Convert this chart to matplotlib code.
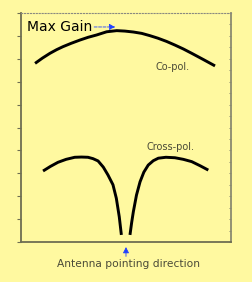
import matplotlib
matplotlib.use('Agg')
import matplotlib.pyplot as plt
import numpy as np

# co-pol and cross-pol pattern (x: 0-100, y: 0-10)
copol_x = [6.7, 10.2, 13.8, 17.0, 20.0, 24.0, 28.1, 32.0, 36.0, 40.8, 45.6, 49.5,
           53.5, 57.5, 61.4, 65.2, 69.3, 73.3, 77.3, 81.3, 86.8, 92.4]
copol_y = [7.80, 8.03, 8.24, 8.40, 8.53, 8.68, 8.82, 8.94, 9.04, 9.18, 9.23, 9.21,
           9.17, 9.11, 9.01, 8.90, 8.76, 8.60, 8.43, 8.24, 7.97, 7.69]

xpol_left_x = [10.5, 14.0, 17.6, 21.5, 25.6, 28.8, 31.9, 34.3, 36.7, 39.2, 41.4,
               43.8, 45.4, 46.8, 47.8]
xpol_left_y = [3.10, 3.30, 3.48, 3.61, 3.70, 3.71, 3.70, 3.64, 3.54, 3.27, 2.93,
               2.50, 1.91, 1.10, 0.31]
xpol_right_x = [51.9, 52.7, 53.5, 55.0, 56.7, 58.5, 60.6, 63.0, 65.4, 69.0, 73.3,
                77.3, 81.3, 85.3, 89.2]
xpol_right_y = [0.31, 0.85, 1.32, 2.05, 2.63, 3.05, 3.36, 3.55, 3.66, 3.70, 3.68,
                3.61, 3.51, 3.33, 3.14]

bg = '#fff9a0'
spine_c = '#6e6e52'
txt_c = '#4a4a38'

fig = plt.figure(figsize=(2.52, 2.82), dpi=100, facecolor=bg)
ax = fig.add_axes([0.0833, 0.1418, 0.8333, 0.8121], facecolor=bg)

ax.plot(copol_x, copol_y, color='black', lw=2.1, solid_capstyle='butt')
ax.plot(xpol_left_x, xpol_left_y, color='black', lw=2.1, solid_capstyle='butt')
ax.plot(xpol_right_x, xpol_right_y, color='black', lw=2.1, solid_capstyle='butt')

ax.set_xlim(0, 100)
ax.set_ylim(0, 10)
ax.set_xticks([])
ax.set_yticks(np.arange(0, 11, 1))
ax.set_yticklabels([])
ax.tick_params(axis='y', which='both', direction='out', length=3, width=0.8,
               color=spine_c)
ax2 = ax.secondary_yaxis('right')
ax2.set_yticks(np.arange(0, 10.5, 0.5))
ax2.set_yticklabels([])
ax2.tick_params(direction='in', length=1.5, width=0.7, color='#8a8a70')
ax2.spines['right'].set_color('#8a8a70')
ax2.spines['right'].set_linewidth(1.3)

for s in ['left', 'bottom']:
    ax.spines[s].set_color(spine_c)
    ax.spines[s].set_linewidth(1.3)
ax.spines['right'].set_visible(False)
ax.spines['top'].set_color('#8a8a80')
ax.spines['top'].set_linewidth(0.8)
ax.spines['top'].set_linestyle(':')

ax.text(2.9, 9.39, 'Max Gain', fontsize=10, color='black', va='center', ha='left')
ax.annotate('', xy=(46.2, 9.39), xytext=(33.5, 9.39),
            arrowprops=dict(arrowstyle='-|>,head_length=0.35,head_width=0.18',
                            color='#2040ff', lw=0.6, ls='--'))
ax.text(72.4, 7.64, 'Co-pol.', fontsize=7, color=txt_c, ha='center', va='center')
ax.text(71.4, 4.15, 'Cross-pol.', fontsize=7, color=txt_c, ha='center', va='center')

ax.annotate('', xy=(50.0, -0.1), xytext=(50.0, -0.75), annotation_clip=False,
            arrowprops=dict(arrowstyle='-|>,head_length=0.35,head_width=0.18',
                            color='#2040ff', lw=0.6))
ax.text(51.0, -0.96, 'Antenna pointing direction', fontsize=7.7, color=txt_c,
        ha='center', va='center', clip_on=False)

fig.savefig('out.png', dpi=100, facecolor=bg)
